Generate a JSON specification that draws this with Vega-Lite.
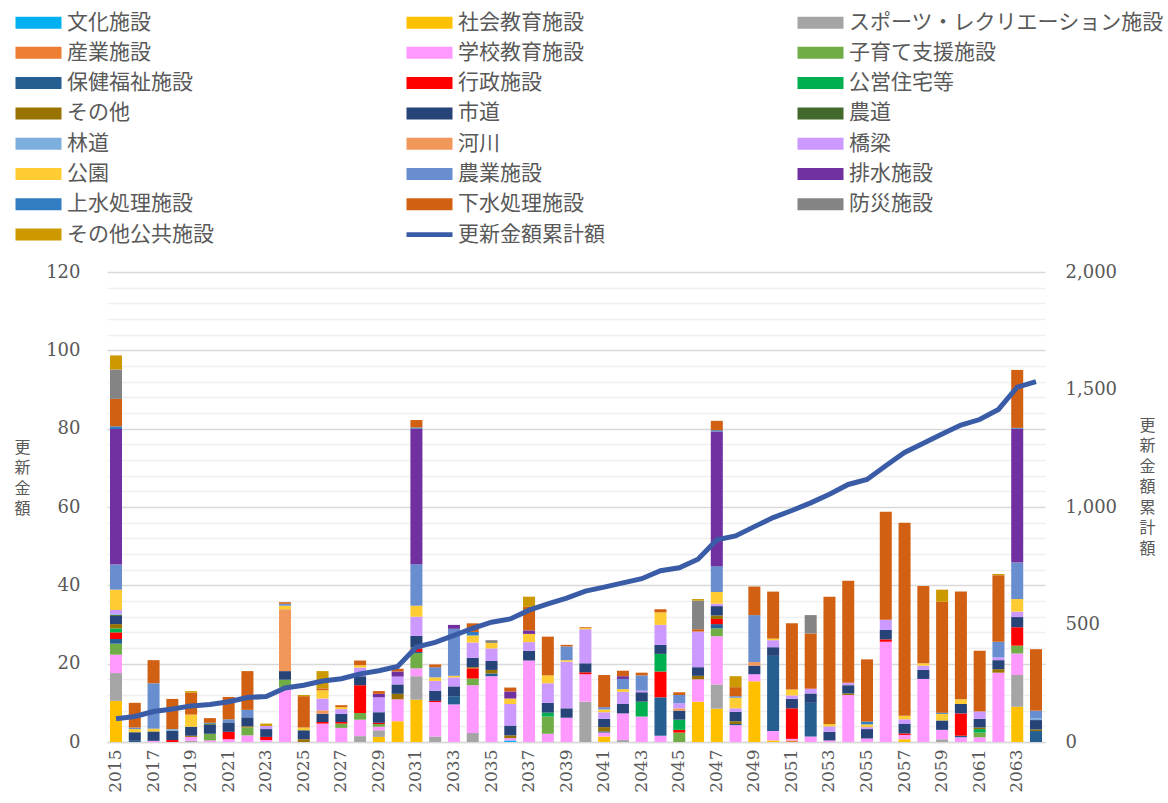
{
"$schema": "https://vega.github.io/schema/vega-lite/v6.json",
"width": 938, "height": 470,
"autosize": {"type": "none"},
"padding": {"left": 107, "top": 272, "right": 123, "bottom": 61},
"background": "white",
"config": {"view": {"stroke": null}, "font": "Noto Sans CJK JP"},
"datasets": {
"cats": [
{"cat":"文化施設","o":1},{"cat":"社会教育施設","o":2},{"cat":"スポーツ・レクリエーション施設","o":3},{"cat":"産業施設","o":4},{"cat":"学校教育施設","o":5},{"cat":"子育て支援施設","o":6},{"cat":"保健福祉施設","o":7},{"cat":"行政施設","o":8},{"cat":"公営住宅等","o":9},{"cat":"その他","o":10},{"cat":"市道","o":11},{"cat":"農道","o":12},{"cat":"林道","o":13},{"cat":"河川","o":14},{"cat":"橋梁","o":15},{"cat":"公園","o":16},{"cat":"農業施設","o":17},{"cat":"排水施設","o":18},{"cat":"上水処理施設","o":19},{"cat":"下水処理施設","o":20},{"cat":"防災施設","o":21},{"cat":"その他公共施設","o":22}
],
"bars": [
{"year":2015,"cat":"社会教育施設","value":10.5},{"year":2015,"cat":"スポーツ・レクリエーション施設","value":7.1},{"year":2015,"cat":"学校教育施設","value":4.7},{"year":2015,"cat":"子育て支援施設","value":2.8},{"year":2015,"cat":"保健福祉施設","value":1.2},{"year":2015,"cat":"行政施設","value":1.7},{"year":2015,"cat":"公営住宅等","value":1.0},{"year":2015,"cat":"その他","value":1.1},{"year":2015,"cat":"市道","value":2.1},{"year":2015,"cat":"農道","value":0.3},{"year":2015,"cat":"林道","value":0.2},{"year":2015,"cat":"橋梁","value":1.0},{"year":2015,"cat":"公園","value":5.2},{"year":2015,"cat":"農業施設","value":6.4},{"year":2015,"cat":"排水施設","value":34.6},{"year":2015,"cat":"上水処理施設","value":0.7},{"year":2015,"cat":"下水処理施設","value":7.0},{"year":2015,"cat":"防災施設","value":7.5},{"year":2015,"cat":"その他公共施設","value":3.6},
{"year":2016,"cat":"保健福祉施設","value":0.3},{"year":2016,"cat":"市道","value":2.2},{"year":2016,"cat":"公園","value":0.8},{"year":2016,"cat":"農業施設","value":0.4},{"year":2016,"cat":"下水処理施設","value":6.3},
{"year":2017,"cat":"学校教育施設","value":0.3},{"year":2017,"cat":"市道","value":2.4},{"year":2017,"cat":"公園","value":0.7},{"year":2017,"cat":"農業施設","value":11.6},{"year":2017,"cat":"下水処理施設","value":5.9},
{"year":2018,"cat":"行政施設","value":0.5},{"year":2018,"cat":"市道","value":2.4},{"year":2018,"cat":"林道","value":0.4},{"year":2018,"cat":"下水処理施設","value":7.7},
{"year":2019,"cat":"スポーツ・レクリエーション施設","value":0.3},{"year":2019,"cat":"学校教育施設","value":1.0},{"year":2019,"cat":"その他","value":0.3},{"year":2019,"cat":"市道","value":2.3},{"year":2019,"cat":"公園","value":3.1},{"year":2019,"cat":"下水処理施設","value":5.6},{"year":2019,"cat":"その他公共施設","value":0.4},
{"year":2020,"cat":"学校教育施設","value":0.4},{"year":2020,"cat":"子育て支援施設","value":1.7},{"year":2020,"cat":"市道","value":2.3},{"year":2020,"cat":"農道","value":0.3},{"year":2020,"cat":"上水処理施設","value":0.2},{"year":2020,"cat":"下水処理施設","value":1.2},
{"year":2021,"cat":"学校教育施設","value":0.7},{"year":2021,"cat":"行政施設","value":1.9},{"year":2021,"cat":"市道","value":2.4},{"year":2021,"cat":"農業施設","value":0.8},{"year":2021,"cat":"下水処理施設","value":5.7},
{"year":2022,"cat":"学校教育施設","value":1.7},{"year":2022,"cat":"子育て支援施設","value":2.0},{"year":2022,"cat":"その他","value":0.3},{"year":2022,"cat":"市道","value":2.3},{"year":2022,"cat":"農業施設","value":1.9},{"year":2022,"cat":"下水処理施設","value":9.9},
{"year":2023,"cat":"学校教育施設","value":0.5},{"year":2023,"cat":"行政施設","value":0.8},{"year":2023,"cat":"市道","value":2.0},{"year":2023,"cat":"橋梁","value":0.8},{"year":2023,"cat":"その他公共施設","value":0.6},
{"year":2024,"cat":"学校教育施設","value":14.0},{"year":2024,"cat":"子育て支援施設","value":1.9},{"year":2024,"cat":"市道","value":2.2},{"year":2024,"cat":"河川","value":15.8},{"year":2024,"cat":"公園","value":0.9},{"year":2024,"cat":"農業施設","value":0.5},{"year":2024,"cat":"下水処理施設","value":0.4},
{"year":2025,"cat":"その他","value":0.7},{"year":2025,"cat":"市道","value":2.3},{"year":2025,"cat":"公園","value":0.7},{"year":2025,"cat":"下水処理施設","value":8.0},{"year":2025,"cat":"その他公共施設","value":0.3},
{"year":2026,"cat":"学校教育施設","value":4.7},{"year":2026,"cat":"行政施設","value":0.4},{"year":2026,"cat":"市道","value":2.1},{"year":2026,"cat":"河川","value":0.9},{"year":2026,"cat":"橋梁","value":3.0},{"year":2026,"cat":"公園","value":2.1},{"year":2026,"cat":"下水処理施設","value":0.5},{"year":2026,"cat":"その他公共施設","value":4.4},
{"year":2027,"cat":"学校教育施設","value":3.6},{"year":2027,"cat":"子育て支援施設","value":1.1},{"year":2027,"cat":"行政施設","value":0.4},{"year":2027,"cat":"市道","value":2.1},{"year":2027,"cat":"橋梁","value":1.2},{"year":2027,"cat":"公園","value":0.5},{"year":2027,"cat":"下水処理施設","value":0.5},
{"year":2028,"cat":"スポーツ・レクリエーション施設","value":1.5},{"year":2028,"cat":"学校教育施設","value":4.2},{"year":2028,"cat":"子育て支援施設","value":1.7},{"year":2028,"cat":"行政施設","value":7.1},{"year":2028,"cat":"市道","value":2.3},{"year":2028,"cat":"橋梁","value":2.2},{"year":2028,"cat":"公園","value":0.6},{"year":2028,"cat":"下水処理施設","value":1.2},
{"year":2029,"cat":"社会教育施設","value":1.3},{"year":2029,"cat":"スポーツ・レクリエーション施設","value":1.7},{"year":2029,"cat":"学校教育施設","value":0.9},{"year":2029,"cat":"子育て支援施設","value":0.7},{"year":2029,"cat":"行政施設","value":0.3},{"year":2029,"cat":"市道","value":2.7},{"year":2029,"cat":"橋梁","value":3.8},{"year":2029,"cat":"排水施設","value":0.9},{"year":2029,"cat":"下水処理施設","value":0.7},
{"year":2030,"cat":"社会教育施設","value":5.3},{"year":2030,"cat":"学校教育施設","value":5.6},{"year":2030,"cat":"その他","value":1.4},{"year":2030,"cat":"市道","value":2.4},{"year":2030,"cat":"橋梁","value":2.0},{"year":2030,"cat":"排水施設","value":1.3},{"year":2030,"cat":"下水処理施設","value":0.7},
{"year":2031,"cat":"社会教育施設","value":10.8},{"year":2031,"cat":"スポーツ・レクリエーション施設","value":6.0},{"year":2031,"cat":"学校教育施設","value":2.0},{"year":2031,"cat":"子育て支援施設","value":3.9},{"year":2031,"cat":"保健福祉施設","value":0.3},{"year":2031,"cat":"行政施設","value":0.8},{"year":2031,"cat":"その他","value":0.3},{"year":2031,"cat":"市道","value":3.0},{"year":2031,"cat":"橋梁","value":4.9},{"year":2031,"cat":"公園","value":2.8},{"year":2031,"cat":"農業施設","value":10.6},{"year":2031,"cat":"排水施設","value":34.6},{"year":2031,"cat":"上水処理施設","value":0.3},{"year":2031,"cat":"下水処理施設","value":1.9},
{"year":2032,"cat":"スポーツ・レクリエーション施設","value":1.4},{"year":2032,"cat":"学校教育施設","value":8.8},{"year":2032,"cat":"行政施設","value":0.3},{"year":2032,"cat":"市道","value":2.6},{"year":2032,"cat":"橋梁","value":2.5},{"year":2032,"cat":"公園","value":0.9},{"year":2032,"cat":"農業施設","value":2.6},{"year":2032,"cat":"下水処理施設","value":0.7},
{"year":2033,"cat":"学校教育施設","value":9.6},{"year":2033,"cat":"保健福祉施設","value":2.1},{"year":2033,"cat":"市道","value":2.5},{"year":2033,"cat":"橋梁","value":2.3},{"year":2033,"cat":"公園","value":0.4},{"year":2033,"cat":"農業施設","value":12.0},{"year":2033,"cat":"排水施設","value":1.0},
{"year":2034,"cat":"スポーツ・レクリエーション施設","value":2.3},{"year":2034,"cat":"学校教育施設","value":12.2},{"year":2034,"cat":"子育て支援施設","value":1.7},{"year":2034,"cat":"行政施設","value":2.6},{"year":2034,"cat":"その他","value":0.3},{"year":2034,"cat":"市道","value":2.4},{"year":2034,"cat":"橋梁","value":3.9},{"year":2034,"cat":"公園","value":1.8},{"year":2034,"cat":"上水処理施設","value":0.9},{"year":2034,"cat":"下水処理施設","value":2.2},
{"year":2035,"cat":"学校教育施設","value":16.8},{"year":2035,"cat":"保健福祉施設","value":0.7},{"year":2035,"cat":"その他","value":0.9},{"year":2035,"cat":"市道","value":2.3},{"year":2035,"cat":"橋梁","value":3.2},{"year":2035,"cat":"公園","value":1.4},{"year":2035,"cat":"防災施設","value":0.7},
{"year":2036,"cat":"文化施設","value":0.4},{"year":2036,"cat":"学校教育施設","value":0.6},{"year":2036,"cat":"その他","value":0.7},{"year":2036,"cat":"市道","value":2.5},{"year":2036,"cat":"橋梁","value":5.5},{"year":2036,"cat":"公園","value":1.4},{"year":2036,"cat":"排水施設","value":1.8},{"year":2036,"cat":"下水処理施設","value":1.0},
{"year":2037,"cat":"学校教育施設","value":20.8},{"year":2037,"cat":"市道","value":2.5},{"year":2037,"cat":"橋梁","value":2.2},{"year":2037,"cat":"公園","value":2.1},{"year":2037,"cat":"排水施設","value":0.9},{"year":2037,"cat":"下水処理施設","value":6.0},{"year":2037,"cat":"その他公共施設","value":2.6},
{"year":2038,"cat":"学校教育施設","value":2.1},{"year":2038,"cat":"子育て支援施設","value":4.4},{"year":2038,"cat":"公営住宅等","value":1.0},{"year":2038,"cat":"市道","value":2.5},{"year":2038,"cat":"橋梁","value":5.0},{"year":2038,"cat":"公園","value":2.0},{"year":2038,"cat":"下水処理施設","value":9.9},
{"year":2039,"cat":"学校教育施設","value":6.2},{"year":2039,"cat":"市道","value":2.4},{"year":2039,"cat":"橋梁","value":11.9},{"year":2039,"cat":"公園","value":0.4},{"year":2039,"cat":"農業施設","value":3.5},{"year":2039,"cat":"下水処理施設","value":0.4},
{"year":2040,"cat":"スポーツ・レクリエーション施設","value":10.3},{"year":2040,"cat":"学校教育施設","value":7.0},{"year":2040,"cat":"行政施設","value":0.5},{"year":2040,"cat":"市道","value":2.3},{"year":2040,"cat":"橋梁","value":8.7},{"year":2040,"cat":"公園","value":0.3},{"year":2040,"cat":"下水処理施設","value":0.2},
{"year":2041,"cat":"社会教育施設","value":1.4},{"year":2041,"cat":"学校教育施設","value":1.0},{"year":2041,"cat":"保健福祉施設","value":0.3},{"year":2041,"cat":"その他","value":1.1},{"year":2041,"cat":"市道","value":2.1},{"year":2041,"cat":"橋梁","value":1.7},{"year":2041,"cat":"公園","value":0.7},{"year":2041,"cat":"農業施設","value":0.6},{"year":2041,"cat":"下水処理施設","value":8.2},
{"year":2042,"cat":"スポーツ・レクリエーション施設","value":0.5},{"year":2042,"cat":"学校教育施設","value":6.8},{"year":2042,"cat":"市道","value":2.4},{"year":2042,"cat":"橋梁","value":3.1},{"year":2042,"cat":"公園","value":0.7},{"year":2042,"cat":"農業施設","value":2.6},{"year":2042,"cat":"排水施設","value":0.7},{"year":2042,"cat":"下水処理施設","value":1.4},
{"year":2043,"cat":"学校教育施設","value":6.5},{"year":2043,"cat":"公営住宅等","value":3.8},{"year":2043,"cat":"市道","value":2.4},{"year":2043,"cat":"橋梁","value":0.4},{"year":2043,"cat":"農業施設","value":3.9},{"year":2043,"cat":"下水処理施設","value":0.7},
{"year":2044,"cat":"学校教育施設","value":1.6},{"year":2044,"cat":"保健福祉施設","value":9.8},{"year":2044,"cat":"行政施設","value":6.6},{"year":2044,"cat":"公営住宅等","value":4.5},{"year":2044,"cat":"市道","value":2.3},{"year":2044,"cat":"橋梁","value":5.1},{"year":2044,"cat":"公園","value":3.2},{"year":2044,"cat":"下水処理施設","value":0.8},
{"year":2045,"cat":"子育て支援施設","value":2.4},{"year":2045,"cat":"行政施設","value":0.7},{"year":2045,"cat":"公営住宅等","value":2.6},{"year":2045,"cat":"市道","value":2.3},{"year":2045,"cat":"河川","value":0.6},{"year":2045,"cat":"橋梁","value":1.3},{"year":2045,"cat":"農業施設","value":2.1},{"year":2045,"cat":"下水処理施設","value":0.7},
{"year":2046,"cat":"社会教育施設","value":10.3},{"year":2046,"cat":"学校教育施設","value":5.7},{"year":2046,"cat":"その他","value":0.9},{"year":2046,"cat":"市道","value":2.2},{"year":2046,"cat":"橋梁","value":9.1},{"year":2046,"cat":"下水処理施設","value":0.6},{"year":2046,"cat":"防災施設","value":7.3},{"year":2046,"cat":"その他公共施設","value":0.4},
{"year":2047,"cat":"社会教育施設","value":8.5},{"year":2047,"cat":"スポーツ・レクリエーション施設","value":6.2},{"year":2047,"cat":"学校教育施設","value":12.3},{"year":2047,"cat":"子育て支援施設","value":2.0},{"year":2047,"cat":"保健福祉施設","value":1.1},{"year":2047,"cat":"行政施設","value":1.3},{"year":2047,"cat":"その他","value":0.9},{"year":2047,"cat":"市道","value":2.4},{"year":2047,"cat":"橋梁","value":0.6},{"year":2047,"cat":"公園","value":3.0},{"year":2047,"cat":"農業施設","value":6.6},{"year":2047,"cat":"排水施設","value":34.4},{"year":2047,"cat":"上水処理施設","value":0.3},{"year":2047,"cat":"下水処理施設","value":2.4},
{"year":2048,"cat":"学校教育施設","value":4.3},{"year":2048,"cat":"保健福祉施設","value":0.3},{"year":2048,"cat":"その他","value":0.7},{"year":2048,"cat":"市道","value":2.4},{"year":2048,"cat":"橋梁","value":0.9},{"year":2048,"cat":"公園","value":2.7},{"year":2048,"cat":"農業施設","value":0.4},{"year":2048,"cat":"下水処理施設","value":2.3},{"year":2048,"cat":"その他公共施設","value":2.8},
{"year":2049,"cat":"社会教育施設","value":15.5},{"year":2049,"cat":"学校教育施設","value":1.8},{"year":2049,"cat":"市道","value":2.2},{"year":2049,"cat":"河川","value":0.9},{"year":2049,"cat":"農業施設","value":12.0},{"year":2049,"cat":"下水処理施設","value":7.3},
{"year":2050,"cat":"社会教育施設","value":0.4},{"year":2050,"cat":"学校教育施設","value":2.4},{"year":2050,"cat":"保健福祉施設","value":19.2},{"year":2050,"cat":"市道","value":2.2},{"year":2050,"cat":"橋梁","value":1.8},{"year":2050,"cat":"公園","value":0.4},{"year":2050,"cat":"下水処理施設","value":12.0},
{"year":2051,"cat":"産業施設","value":0.4},{"year":2051,"cat":"学校教育施設","value":0.4},{"year":2051,"cat":"行政施設","value":7.8},{"year":2051,"cat":"市道","value":2.4},{"year":2051,"cat":"橋梁","value":0.9},{"year":2051,"cat":"公園","value":1.5},{"year":2051,"cat":"下水処理施設","value":16.9},
{"year":2052,"cat":"学校教育施設","value":1.4},{"year":2052,"cat":"保健福祉施設","value":8.6},{"year":2052,"cat":"市道","value":2.4},{"year":2052,"cat":"橋梁","value":1.2},{"year":2052,"cat":"下水処理施設","value":14.1},{"year":2052,"cat":"防災施設","value":4.7},
{"year":2053,"cat":"学校教育施設","value":0.4},{"year":2053,"cat":"市道","value":2.2},{"year":2053,"cat":"橋梁","value":1.4},{"year":2053,"cat":"公園","value":0.6},{"year":2053,"cat":"下水処理施設","value":32.5},
{"year":2054,"cat":"学校教育施設","value":12.0},{"year":2054,"cat":"その他","value":0.4},{"year":2054,"cat":"市道","value":2.1},{"year":2054,"cat":"橋梁","value":0.6},{"year":2054,"cat":"下水処理施設","value":26.1},
{"year":2055,"cat":"学校教育施設","value":0.9},{"year":2055,"cat":"市道","value":2.4},{"year":2055,"cat":"橋梁","value":0.5},{"year":2055,"cat":"公園","value":0.7},{"year":2055,"cat":"上水処理施設","value":0.7},{"year":2055,"cat":"下水処理施設","value":15.9},
{"year":2056,"cat":"学校教育施設","value":25.6},{"year":2056,"cat":"行政施設","value":0.6},{"year":2056,"cat":"市道","value":2.4},{"year":2056,"cat":"橋梁","value":2.6},{"year":2056,"cat":"下水処理施設","value":27.6},
{"year":2057,"cat":"社会教育施設","value":0.7},{"year":2057,"cat":"学校教育施設","value":1.1},{"year":2057,"cat":"行政施設","value":0.4},{"year":2057,"cat":"市道","value":2.4},{"year":2057,"cat":"橋梁","value":1.2},{"year":2057,"cat":"公園","value":0.9},{"year":2057,"cat":"下水処理施設","value":49.3},
{"year":2058,"cat":"学校教育施設","value":16.1},{"year":2058,"cat":"市道","value":2.3},{"year":2058,"cat":"橋梁","value":1.1},{"year":2058,"cat":"公園","value":0.6},{"year":2058,"cat":"下水処理施設","value":19.7},
{"year":2059,"cat":"スポーツ・レクリエーション施設","value":0.7},{"year":2059,"cat":"学校教育施設","value":2.4},{"year":2059,"cat":"市道","value":2.4},{"year":2059,"cat":"公園","value":1.7},{"year":2059,"cat":"上水処理施設","value":0.3},{"year":2059,"cat":"下水処理施設","value":28.3},{"year":2059,"cat":"その他公共施設","value":3.1},
{"year":2060,"cat":"学校教育施設","value":1.2},{"year":2060,"cat":"保健福祉施設","value":0.4},{"year":2060,"cat":"行政施設","value":5.7},{"year":2060,"cat":"市道","value":2.4},{"year":2060,"cat":"公園","value":1.2},{"year":2060,"cat":"下水処理施設","value":27.5},
{"year":2061,"cat":"学校教育施設","value":1.2},{"year":2061,"cat":"子育て支援施設","value":1.2},{"year":2061,"cat":"公営住宅等","value":0.9},{"year":2061,"cat":"その他","value":0.4},{"year":2061,"cat":"市道","value":2.2},{"year":2061,"cat":"橋梁","value":1.9},{"year":2061,"cat":"下水処理施設","value":15.5},
{"year":2062,"cat":"学校教育施設","value":17.7},{"year":2062,"cat":"その他","value":0.9},{"year":2062,"cat":"市道","value":2.3},{"year":2062,"cat":"橋梁","value":0.7},{"year":2062,"cat":"農業施設","value":4.0},{"year":2062,"cat":"下水処理施設","value":17.0},{"year":2062,"cat":"その他公共施設","value":0.3},
{"year":2063,"cat":"社会教育施設","value":9.0},{"year":2063,"cat":"スポーツ・レクリエーション施設","value":8.1},{"year":2063,"cat":"学校教育施設","value":5.5},{"year":2063,"cat":"子育て支援施設","value":2.0},{"year":2063,"cat":"行政施設","value":4.7},{"year":2063,"cat":"市道","value":2.6},{"year":2063,"cat":"橋梁","value":1.4},{"year":2063,"cat":"公園","value":3.2},{"year":2063,"cat":"農業施設","value":9.3},{"year":2063,"cat":"排水施設","value":34.2},{"year":2063,"cat":"上水処理施設","value":0.2},{"year":2063,"cat":"下水処理施設","value":14.8},
{"year":2064,"cat":"保健福祉施設","value":2.8},{"year":2064,"cat":"その他","value":0.4},{"year":2064,"cat":"市道","value":2.4},{"year":2064,"cat":"林道","value":0.4},{"year":2064,"cat":"農業施設","value":2.0},{"year":2064,"cat":"下水処理施設","value":15.7}
],
"cum": [
{"year":2015,"cum":98.7},{"year":2016,"cum":108.7},{"year":2017,"cum":129.6},{"year":2018,"cum":140.6},{"year":2019,"cum":153.6},{"year":2020,"cum":159.7},{"year":2021,"cum":171.2},{"year":2022,"cum":189.3},{"year":2023,"cum":194.0},{"year":2024,"cum":229.7},
{"year":2025,"cum":241.7},{"year":2026,"cum":259.8},{"year":2027,"cum":269.2},{"year":2028,"cum":290.0},{"year":2029,"cum":303.0},{"year":2030,"cum":321.7},{"year":2031,"cum":403.9},{"year":2032,"cum":423.7},{"year":2033,"cum":453.6},{"year":2034,"cum":483.9},
{"year":2035,"cum":509.9},{"year":2036,"cum":523.8},{"year":2037,"cum":560.9},{"year":2038,"cum":587.8},{"year":2039,"cum":612.6},{"year":2040,"cum":641.9},{"year":2041,"cum":659.0},{"year":2042,"cum":677.2},{"year":2043,"cum":694.9},{"year":2044,"cum":728.8},
{"year":2045,"cum":741.5},{"year":2046,"cum":778.0},{"year":2047,"cum":860.0},{"year":2048,"cum":876.8},{"year":2049,"cum":916.5},{"year":2050,"cum":954.9},{"year":2051,"cum":985.2},{"year":2052,"cum":1017.6},{"year":2053,"cum":1054.7},{"year":2054,"cum":1095.9},
{"year":2055,"cum":1117.0},{"year":2056,"cum":1175.8},{"year":2057,"cum":1231.8},{"year":2058,"cum":1271.6},{"year":2059,"cum":1310.5},{"year":2060,"cum":1348.9},{"year":2061,"cum":1372.2},{"year":2062,"cum":1415.1},{"year":2063,"cum":1510.1},{"year":2064,"cum":1533.8}
]
},
"layer": [
{
"data": {"name": "bars"},
"transform": [{"lookup": "cat", "from": {"data": {"name": "cats"}, "key": "cat", "fields": ["o"]}}],
"mark": {"type": "bar"},
"encoding": {
"x": {"field": "year", "type": "ordinal", "scale": {"paddingInner": 0.36, "paddingOuter": 0.16},
"axis": {"values": [2015,2017,2019,2021,2023,2025,2027,2029,2031,2033,2035,2037,2039,2041,2043,2045,2047,2049,2051,2053,2055,2057,2059,2061,2063],
"labelAngle": -90, "labelFont": "DejaVu Serif", "labelFontSize": 17, "labelColor": "#595959", "ticks": false, "domain": true, "domainColor": "#d9d9d9", "domainWidth": 1.5, "labelPadding": 7, "title": null, "grid": false}},
"y": {"field": "value", "type": "quantitative", "stack": "zero", "scale": {"domain": [0, 120]},
"axis": {"values": [0,4,8,12,16,20,24,28,32,36,40,44,48,52,56,60,64,68,72,76,80,84,88,92,96,100,104,108,112,116,120],
"labelExpr": "datum.value % 20 === 0 ? datum.label : ''",
"grid": true, "gridColor": {"condition": {"test": "datum.value % 20 === 0", "value": "#d9d9d9"}, "value": "#efefef"}, "gridWidth": 1.3,
"domain": false, "ticks": false, "labelFont": "DejaVu Serif", "labelFontSize": 18, "labelColor": "#595959", "labelPadding": 27,
"title": ["更","新","金","額"], "titleAngle": 0, "titleX": -85, "titleY": 167, "titleBaseline": "top", "titleAlign": "center",
"titleFont": "Noto Sans CJK JP", "titleFontSize": 16, "titleFontWeight": "normal", "titleColor": "#595959", "titleLineHeight": 20.5}},
"color": {"field": "cat", "type": "nominal",
"scale": {"domain": ["文化施設","社会教育施設","スポーツ・レクリエーション施設","産業施設","学校教育施設","子育て支援施設","保健福祉施設","行政施設","公営住宅等","その他","市道","農道","林道","河川","橋梁","公園","農業施設","排水施設","上水処理施設","下水処理施設","防災施設","その他公共施設","更新金額累計額"],
"range": ["#00B0F0","#FFC000","#A5A5A5","#ED7D31","#FF99FF","#70AD47","#255E91","#FF0000","#00B050","#997300","#264478","#43682B","#7CAFDD","#F1975A","#CC99FF","#FFCD33","#698ED0","#7030A0","#327DC2","#D26012","#848484","#CC9900","#3A5CA6"]},
"legend": {"orient": "none", "direction": "horizontal", "legendX": -92, "legendY": -260, "columns": 3, "gridAlign": "all", "columnPadding": 24, "rowPadding": 8.3,
"symbolType": "M-2.3,-0.6L2.3,-0.6L2.3,0.6L-2.3,0.6Z", "symbolSize": 400, "symbolStrokeWidth": 0, "symbolOffset": 13,
"labelFont": "Noto Sans CJK JP", "labelFontSize": 21, "labelColor": "#595959", "labelOffset": 18, "labelLimit": 400, "title": null,
"encode": {"symbols": {"update": {"shape": {"signal": "datum.value === '更新金額累計額' ? 'M-2.3,-0.23L2.3,-0.23L2.3,0.23L-2.3,0.23Z' : 'M-2.3,-0.6L2.3,-0.6L2.3,0.6L-2.3,0.6Z'"}}}}}},
"order": {"field": "o", "type": "quantitative", "sort": "ascending"}
}
},
{
"data": {"name": "cum"},
"mark": {"type": "line", "color": "#3A5CA6", "strokeWidth": 5},
"encoding": {
"x": {"field": "year", "type": "ordinal"},
"y": {"field": "cum", "type": "quantitative", "scale": {"domain": [0, 2000]},
"axis": {"orient": "right", "values": [0, 500, 1000, 1500, 2000], "format": ",d", "grid": false, "domain": false, "ticks": false,
"labelFont": "DejaVu Serif", "labelFontSize": 18, "labelColor": "#595959", "labelPadding": 20,
"title": ["更","新","金","額","累","計","額"], "titleAngle": 0, "titleX": 102, "titleY": 145, "titleBaseline": "top", "titleAlign": "center",
"titleFont": "Noto Sans CJK JP", "titleFontSize": 16, "titleFontWeight": "normal", "titleColor": "#595959", "titleLineHeight": 20.5}}
}
}
],
"resolve": {"scale": {"y": "independent"}}
}
